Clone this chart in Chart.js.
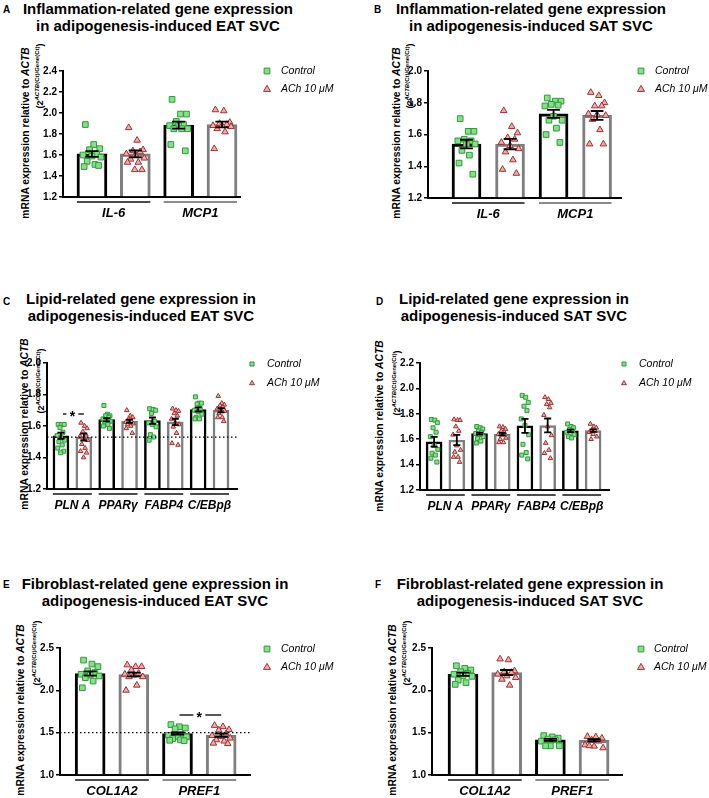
<!DOCTYPE html>
<html>
<head>
<meta charset="utf-8">
<script src="https://cdn.jsdelivr.net/npm/chart.js@4.4.0/dist/chart.umd.min.js"></script>
<style>
  body { margin: 0; background: #fff; }
  #fig { position: relative; width: 709px; height: 798px; overflow: hidden; font-family: "Liberation Sans", Arial, sans-serif; color: #000; }
  #fig canvas { position: absolute; }
  .title { position: absolute; width: 320px; text-align: center; font-weight: bold; font-size: 15px; line-height: 17px; white-space: nowrap; }
  .letter { position: absolute; font-weight: bold; font-size: 10px; }
  .yl, .yl2 { position: absolute; white-space: nowrap; font-weight: bold; transform: translate(-50%, -50%) rotate(-90deg); }
  .yl { font-size: 10.3px; }
  .yl2 { font-size: 9px; }
  .yl2 sup { font-size: 6px; vertical-align: 4px; line-height: 0; }
</style>
</head>
<body>
<div id="fig">
  <div class="letter" style="left:3px;top:4px">A</div>
  <div class="title" style="left:-2px;top:0px">Inflammation-related gene expression<br>in adipogenesis-induced EAT SVC</div>
  <div class="yl" style="left:25px;top:133px">mRNA expression relative to <i>ACTB</i></div>
  <div class="yl2" style="left:40px;top:76px">(2<sup><i>ACTB</i>(Ct)/Gene(Ct)</sup>)</div>

  <div class="letter" style="left:374px;top:4px">B</div>
  <div class="title" style="left:371px;top:0px">Inflammation-related gene expression<br>in adipogenesis-induced SAT SVC</div>
  <div class="yl" style="left:396px;top:133px">mRNA expression relative to <i>ACTB</i></div>
  <div class="yl2" style="left:410px;top:76px">(2<sup><i>ACTB</i>(Ct)/Gene(Ct)</sup>)</div>

  <div class="letter" style="left:3px;top:296px">C</div>
  <div class="title" style="left:-19px;top:290px">Lipid-related gene expression in<br>adipogenesis-induced EAT SVC</div>
  <div class="yl" style="left:24px;top:424px">mRNA expression relative to <i>ACTB</i></div>
  <div class="yl2" style="left:41px;top:381px">(2<sup><i>ACTB</i>(Ct)/Gene(Ct)</sup>)</div>

  <div class="letter" style="left:376px;top:296px">D</div>
  <div class="title" style="left:354px;top:290px">Lipid-related gene expression in<br>adipogenesis-induced SAT SVC</div>
  <div class="yl" style="left:379px;top:426px">mRNA expression relative to <i>ACTB</i></div>
  <div class="yl2" style="left:397px;top:383px">(2<sup><i>ACTB</i>(Ct)/Gene(Ct)</sup>)</div>

  <div class="letter" style="left:3px;top:579px">E</div>
  <div class="title" style="left:-5px;top:575px">Fibroblast-related gene expression in<br>adipogenesis-induced EAT SVC</div>
  <div class="yl" style="left:20px;top:710px">mRNA expression relative to <i>ACTB</i></div>
  <div class="yl2" style="left:37px;top:653px">(2<sup><i>ACTB</i>(Ct)/Gene(Ct)</sup>)</div>

  <div class="letter" style="left:375px;top:579px">F</div>
  <div class="title" style="left:370px;top:575px">Fibroblast-related gene expression in<br>adipogenesis-induced SAT SVC</div>
  <div class="yl" style="left:392px;top:710px">mRNA expression relative to <i>ACTB</i></div>
  <div class="yl2" style="left:407px;top:653px">(2<sup><i>ACTB</i>(Ct)/Gene(Ct)</sup>)</div>
</div>

<script>
// ---- data ----
const legendNames = ["Control", "ACh 10 μM"];

// A: inflammation, EAT
const genesA = ["IL-6", "MCP1"];
const ctrlA = [
  [1.89, 1.70, 1.66, 1.65, 1.61, 1.60, 1.59, 1.58, 1.54, 1.51, 1.49, 1.50],
  [2.13, 1.99, 1.99, 1.92, 1.89, 1.88, 1.88, 1.85, 1.85, 1.85, 1.70, 1.64]
];
const achA = [
  [1.86, 1.74, 1.65, 1.64, 1.63, 1.61, 1.60, 1.57, 1.56, 1.53, 1.53, 1.46, 1.46],
  [2.03, 2.02, 1.91, 1.90, 1.89, 1.88, 1.88, 1.87, 1.85, 1.82, 1.66]
];
const meanCtrlA = [1.61, 1.885];
const meanAchA = [1.61, 1.89];
const semCtrlA = [0.027, 0.033];
const semAchA = [0.033, 0.027];

// B: inflammation, SAT
const genesB = ["IL-6", "MCP1"];
const ctrlB = [
  [1.70, 1.62, 1.62, 1.57, 1.56, 1.56, 1.54, 1.54, 1.50, 1.47, 1.42, 1.35],
  [1.83, 1.81, 1.81, 1.79, 1.785, 1.78, 1.715, 1.69, 1.69, 1.64, 1.60, 1.55]
];
const achB = [
  [1.75, 1.65, 1.61, 1.58, 1.57, 1.55, 1.53, 1.51, 1.49, 1.44, 1.38, 1.355],
  [1.865, 1.845, 1.80, 1.78, 1.78, 1.73, 1.725, 1.72, 1.695, 1.63, 1.54, 1.54]
];
const meanCtrlB = [1.54, 1.73];
const meanAchB = [1.54, 1.72];
const semCtrlB = [0.027, 0.025];
const semAchB = [0.033, 0.028];

// C: lipid, EAT
const genesC = ["PLN A", "PPARγ", "FABP4", "C/EBpβ"];
const ctrlC = [
  [1.61, 1.61, 1.61, 1.59, 1.56, 1.54, 1.525, 1.51, 1.50, 1.48, 1.46, 1.44, 1.43],
  [1.73, 1.675, 1.665, 1.665, 1.655, 1.645, 1.64, 1.63, 1.625, 1.61, 1.60, 1.585],
  [1.71, 1.705, 1.70, 1.68, 1.63, 1.62, 1.61, 1.595, 1.545, 1.53, 1.51],
  [1.785, 1.745, 1.745, 1.74, 1.71, 1.70, 1.69, 1.675, 1.655, 1.645, 1.645]
];
const achC = [
  [1.62, 1.60, 1.585, 1.565, 1.545, 1.535, 1.525, 1.51, 1.485, 1.46, 1.44, 1.43, 1.40],
  [1.70, 1.665, 1.655, 1.645, 1.63, 1.625, 1.62, 1.615, 1.61, 1.60, 1.585, 1.555],
  [1.71, 1.70, 1.695, 1.68, 1.665, 1.645, 1.62, 1.61, 1.595, 1.555, 1.49, 1.48],
  [1.79, 1.745, 1.735, 1.73, 1.72, 1.71, 1.705, 1.695, 1.68, 1.655, 1.655, 1.63]
];
const meanCtrlC = [1.538, 1.64, 1.634, 1.705];
const meanAchC = [1.53, 1.63, 1.626, 1.70];
const semCtrlC = [0.02, 0.01, 0.02, 0.013];
const semAchC = [0.022, 0.01, 0.02, 0.013];

// D: lipid, SAT
const genesD = ["PLN A", "PPARγ", "FABP4", "C/EBpβ"];
const ctrlD = [
  [1.755, 1.75, 1.73, 1.69, 1.655, 1.62, 1.55, 1.52, 1.49, 1.475, 1.45, 1.42],
  [1.70, 1.69, 1.68, 1.665, 1.655, 1.645, 1.635, 1.62, 1.605, 1.585, 1.57],
  [1.945, 1.93, 1.89, 1.86, 1.825, 1.76, 1.71, 1.635, 1.56, 1.495, 1.475, 1.445],
  [1.72, 1.70, 1.69, 1.675, 1.665, 1.655, 1.645, 1.635, 1.62, 1.61]
];
const achD = [
  [1.755, 1.75, 1.75, 1.70, 1.665, 1.635, 1.55, 1.515, 1.50, 1.46, 1.46, 1.42],
  [1.70, 1.695, 1.68, 1.665, 1.655, 1.64, 1.635, 1.61, 1.60, 1.575, 1.575],
  [1.93, 1.915, 1.885, 1.875, 1.85, 1.79, 1.70, 1.63, 1.57, 1.515, 1.49, 1.45],
  [1.72, 1.70, 1.69, 1.675, 1.665, 1.655, 1.64, 1.62, 1.60]
];
const meanCtrlD = [1.58, 1.644, 1.705, 1.665];
const meanAchD = [1.594, 1.64, 1.708, 1.668];
const semCtrlD = [0.038, 0.008, 0.055, 0.01];
const semAchD = [0.04, 0.01, 0.055, 0.01];

// E: fibroblast, EAT
const genesE = ["COL1A2", "PREF1"];
const ctrlE = [
  [2.357, 2.31, 2.28, 2.23, 2.21, 2.19, 2.18, 2.17, 2.15, 2.11, 2.03],
  [1.595, 1.57, 1.555, 1.545, 1.475, 1.47, 1.455, 1.45, 1.43, 1.415, 1.41, 1.405]
];
const achE = [
  [2.30, 2.28, 2.28, 2.24, 2.20, 2.19, 2.18, 2.16, 2.16, 2.06, 2.00],
  [1.585, 1.57, 1.535, 1.53, 1.485, 1.465, 1.455, 1.435, 1.415, 1.40, 1.375, 1.37]
];
const meanCtrlE = [2.198, 1.49];
const meanAchE = [2.187, 1.47];
const semCtrlE = [0.025, 0.012];
const semAchE = [0.022, 0.02];

// F: fibroblast, SAT
const genesF = ["COL1A2", "PREF1"];
const ctrlF = [
  [2.29, 2.26, 2.24, 2.22, 2.20, 2.19, 2.17, 2.165, 2.12, 2.09, 2.07],
  [1.465, 1.45, 1.435, 1.425, 1.415, 1.40, 1.345, 1.345, 1.345]
];
const achF = [
  [2.37, 2.36, 2.23, 2.22, 2.21, 2.19, 2.17, 2.15, 2.13, 2.06],
  [1.455, 1.45, 1.435, 1.415, 1.40, 1.355, 1.34, 1.32, 1.345]
];
const meanCtrlF = [2.19, 1.415];
const meanAchF = [2.21, 1.41];
const semCtrlF = [0.02, 0.012];
const semAchF = [0.03, 0.012];

// ---- drawing ----
const FONT = '"Liberation Sans", Arial, sans-serif';
const JIT = [-0.55, 0.15, 0.65, -0.2, 0.4, -0.75, 0.0, 0.75, -0.4, 0.25, -0.65, 0.55, -0.05];
const CTRL_FILL = "#88df88", CTRL_LINE = "#2e9a3c";
const ACH_FILL = "#f4a9a9", ACH_LINE = "#9c3434";

function square(ctx, x, y, s) {
  ctx.beginPath();
  ctx.rect(x - s / 2, y - s / 2, s, s);
  ctx.fill(); ctx.stroke();
}
function tri(ctx, x, y, s) {
  const h = s * 0.87;
  ctx.beginPath();
  ctx.moveTo(x, y - h * 0.6);
  ctx.lineTo(x + s / 2, y + h * 0.4);
  ctx.lineTo(x - s / 2, y + h * 0.4);
  ctx.closePath();
  ctx.fill(); ctx.stroke();
}

function decor(p) {
  return {
    id: "decor",
    afterDatasetsDraw(chart) {
      const { ctx, chartArea: a, scales: { x, y } } = chart;
      ctx.save();
      if (p.refLine) {
        ctx.strokeStyle = "#000";
        ctx.lineWidth = 1.2;
        ctx.setLineDash([1.5, 2.5]);
        const py = y.getPixelForValue(p.refLine);
        ctx.beginPath(); ctx.moveTo(a.left, py); ctx.lineTo(a.right, py); ctx.stroke();
        ctx.setLineDash([]);
      }
      // mean +/- SEM
      ctx.strokeStyle = "#000";
      ctx.lineWidth = 1.8;
      const cap = p.barW * 0.22;
      p.genes.forEach((g, i) => {
        [[p.meanCtrl[i], p.semCtrl[i]], [p.meanAch[i], p.semAch[i]]].forEach(([m, e], s) => {
          const px = x.getPixelForValue(2 * i + s);
          const y1 = y.getPixelForValue(m + e), y2 = y.getPixelForValue(m - e);
          ctx.beginPath();
          ctx.moveTo(px, y1); ctx.lineTo(px, y2);
          ctx.moveTo(px - cap, y1); ctx.lineTo(px + cap, y1);
          ctx.moveTo(px - cap, y2); ctx.lineTo(px + cap, y2);
          ctx.stroke();
        });
      });
      if (p.star) {
        const x0 = x.getPixelForValue(p.star.from), x1 = x.getPixelForValue(p.star.to);
        const py = y.getPixelForValue(p.star.y), mid = (x0 + x1) / 2;
        ctx.lineWidth = 1.5;
        ctx.strokeStyle = "#222";
        ctx.beginPath();
        ctx.moveTo(x0 + 2, py); ctx.lineTo(mid - 6, py);
        ctx.moveTo(mid + 6, py); ctx.lineTo(x1, py);
        ctx.stroke();
        ctx.fillStyle = "#000";
        ctx.font = "bold 14px " + FONT;
        ctx.textAlign = "center";
        ctx.textBaseline = "middle";
        ctx.fillText("*", mid, py + 3);
      }
      ctx.restore();
    },
    afterDraw(chart) {
      const { ctx, chartArea: a, scales: { x } } = chart;
      ctx.save();
      // group underlines
      ctx.lineWidth = 1.5;
      p.genes.forEach((g, i) => {
        const l = x.getPixelForValue(2 * i) - p.barW / 2;
        const r = x.getPixelForValue(2 * i + 1) + p.barW / 2;
        ctx.strokeStyle = (p.genes.length === 2 && i === 1) ? "#666" : "#111";
        ctx.beginPath(); ctx.moveTo(l, a.bottom + 5); ctx.lineTo(r, a.bottom + 5); ctx.stroke();
      });
      // legend
      const L = p.legend;
      ctx.lineWidth = 1;
      ctx.fillStyle = CTRL_FILL; ctx.strokeStyle = CTRL_LINE;
      square(ctx, L.x, L.y1, p.ptR * 1.45);
      ctx.fillStyle = ACH_FILL; ctx.strokeStyle = ACH_LINE;
      tri(ctx, L.x, L.y2, p.ptR * 1.75);
      ctx.fillStyle = "#000";
      ctx.font = "italic 10.5px " + FONT;
      ctx.textAlign = "left";
      ctx.textBaseline = "middle";
      ctx.fillText(legendNames[0], L.tx, L.y1);
      ctx.fillText(legendNames[1], L.tx, L.y2);
      ctx.restore();
    }
  };
}

function buildPanel(p) {
  const canvas = document.createElement("canvas");
  canvas.width = p.w; canvas.height = p.h;
  canvas.style.left = p.left + "px"; canvas.style.top = p.top + "px";
  document.getElementById("fig").appendChild(canvas);

  const pxPerUnit = (p.area.right - p.area.left) / (p.xMax - p.xMin);
  const half = (p.barW / 2 - 3) / pxPerUnit;
  const bars = [];
  p.genes.forEach((g, i) => {
    bars.push({ x: 2 * i, y: p.meanCtrl[i] });
    bars.push({ x: 2 * i + 1, y: p.meanAch[i] });
  });
  const pts = (groups, s) => groups.flatMap((vals, i) =>
    vals.map((v, k) => ({ x: 2 * i + s + JIT[k % JIT.length] * half, y: v })));

  new Chart(canvas, {
    type: "bar",
    data: {
      datasets: [
        { type: "scatter", label: legendNames[0], data: pts(p.ctrl, 0), pointStyle: "rect",
          pointRadius: p.ptR, backgroundColor: CTRL_FILL, borderColor: CTRL_LINE, borderWidth: 1, order: 0 },
        { type: "scatter", label: legendNames[1], data: pts(p.ach, 1), pointStyle: "triangle",
          pointRadius: p.ptR * 0.95, backgroundColor: ACH_FILL, borderColor: ACH_LINE, borderWidth: 1, order: 0 },
        { type: "bar", data: bars, backgroundColor: "#fff",
          borderColor: bars.map((b, i) => (i % 2 ? "#7f7f7f" : "#000")),
          borderWidth: p.barBorder, borderSkipped: "start", barThickness: p.barW, base: p.yMin, order: 1 }
      ]
    },
    options: {
      responsive: false,
      animation: false,
      layout: { padding: { left: p.area.left - 34, top: p.area.top, right: p.w - p.area.right, bottom: p.h - p.area.bottom - 26 } },
      plugins: { legend: { display: false }, tooltip: { enabled: false } },
      scales: {
        x: {
          type: "linear", min: p.xMin, max: p.xMax, offset: false,
          grid: { display: false, drawTicks: false },
          border: { color: "#000", width: 2 },
          afterBuildTicks: s => { s.ticks = p.genes.map((g, i) => ({ value: 2 * i + 0.5 })); },
          afterFit: s => { s.height = 26; },
          ticks: { autoSkip: false, maxRotation: 0, padding: 9, color: "#000",
            font: { family: FONT, size: p.xFont, weight: "bold", style: "italic" },
            callback: (v, i) => p.genes[i] }
        },
        y: {
          min: p.yMin, max: p.yMax,
          afterFit: s => { s.width = 34; },
          grid: { drawOnChartArea: false, tickLength: 4, color: "#000", lineWidth: 1.5 },
          border: { color: "#000", width: 2 },
          ticks: { stepSize: p.yStep, padding: 2, color: "#000",
            font: { family: FONT, size: 10, weight: "bold" },
            callback: v => v.toFixed(1) }
        }
      }
    },
    plugins: [decor(p)]
  });
}

buildPanel({ left: 0, top: 0, w: 354, h: 258, area: { left: 63, top: 71, right: 240, bottom: 197 },
  xMin: -0.668, xMax: 3.415, barW: 30, barBorder: 3, ptR: 4, xFont: 13,
  yMin: 1.2, yMax: 2.4, yStep: 0.2, legend: { x: 267, tx: 281, y1: 71, y2: 89 },
  genes: genesA, ctrl: ctrlA, ach: achA, meanCtrl: meanCtrlA, meanAch: meanAchA, semCtrl: semCtrlA, semAch: semAchA });

buildPanel({ left: 354, top: 0, w: 355, h: 258, area: { left: 74, top: 71, right: 267, bottom: 198 },
  xMin: -0.885, xMax: 3.55, barW: 29, barBorder: 3, ptR: 4, xFont: 13,
  yMin: 1.2, yMax: 2.0, yStep: 0.2, legend: { x: 287, tx: 301, y1: 71, y2: 89 },
  genes: genesB, ctrl: ctrlB, ach: achB, meanCtrl: meanCtrlB, meanAch: meanAchB, semCtrl: semCtrlB, semAch: semAchB });

buildPanel({ left: 0, top: 260, w: 354, h: 270, area: { left: 47, top: 103, right: 237, bottom: 229 },
  xMin: -0.61, xMax: 7.7, barW: 16, barBorder: 2.5, ptR: 2.8, xFont: 12,
  yMin: 1.2, yMax: 2.0, yStep: 0.2, legend: { x: 252, tx: 267, y1: 104, y2: 123 },
  refLine: 1.53, star: { from: 0, to: 1, y: 1.676 },
  genes: genesC, ctrl: ctrlC, ach: achC, meanCtrl: meanCtrlC, meanAch: meanAchC, semCtrl: semCtrlC, semAch: semAchC });

buildPanel({ left: 354, top: 260, w: 355, h: 270, area: { left: 66, top: 103, right: 255, bottom: 230 },
  xMin: -0.62, xMax: 7.7, barW: 16, barBorder: 2.5, ptR: 2.8, xFont: 12,
  yMin: 1.2, yMax: 2.2, yStep: 0.2, legend: { x: 270, tx: 285, y1: 104, y2: 123 },
  genes: genesD, ctrl: ctrlD, ach: achD, meanCtrl: meanCtrlD, meanAch: meanAchD, semCtrl: semCtrlD, semAch: semAchD });

buildPanel({ left: 0, top: 530, w: 354, h: 268, area: { left: 60, top: 118, right: 250, bottom: 245 },
  xMin: -0.69, xMax: 3.66, barW: 30, barBorder: 3, ptR: 4, xFont: 13,
  yMin: 1.0, yMax: 2.5, yStep: 0.5, legend: { x: 267, tx: 281, y1: 119, y2: 137 },
  refLine: 1.5, star: { from: 2, to: 3, y: 1.709 },
  genes: genesE, ctrl: ctrlE, ach: achE, meanCtrl: meanCtrlE, meanAch: meanAchE, semCtrl: semCtrlE, semAch: semAchE });

buildPanel({ left: 354, top: 530, w: 355, h: 268, area: { left: 78, top: 118, right: 268, bottom: 245 },
  xMin: -0.71, xMax: 3.64, barW: 30, barBorder: 3, ptR: 4, xFont: 13,
  yMin: 1.0, yMax: 2.5, yStep: 0.5, legend: { x: 287, tx: 300, y1: 119, y2: 137 },
  genes: genesF, ctrl: ctrlF, ach: achF, meanCtrl: meanCtrlF, meanAch: meanAchF, semCtrl: semCtrlF, semAch: semAchF });
</script>
</body>
</html>
